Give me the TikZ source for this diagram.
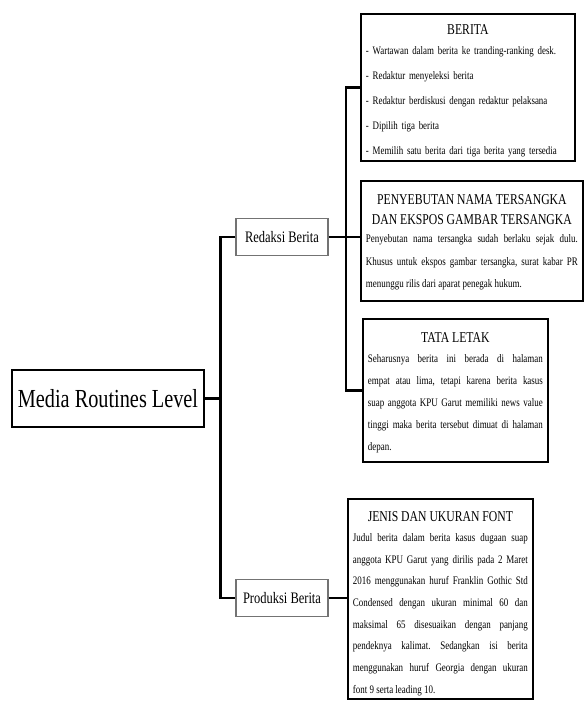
\documentclass[tikz,border=0pt]{standalone}
\usepackage{fontspec}
\setmainfont{Liberation Serif}[FakeStretch=0.78]
\usetikzlibrary{positioning}
\frenchspacing
\tikzset{
  mr/root/.style={draw, line width=1.8pt, minimum width=192pt, minimum height=57pt, inner sep=0pt, font=\fontsize{26}{28}\selectfont},
  mr/stage/.style={draw=black!55, line width=1.4pt, minimum width=92pt, minimum height=37pt, inner sep=0pt, font=\fontsize{16}{18}\selectfont},
  mr/info/.style={draw, line width=1.8pt, anchor=north west, inner xsep=5pt, inner ysep=3pt, align=justify, font=\fontsize{11.5}{22}\selectfont},
  mr/link/.style={line width=2.4pt}
}
% title of a detail box: strut height, text, gap to the body
\newcommand{\boxtitle}[3]{{\centering\fontsize{15}{20}\selectfont\rule{0pt}{#1}#2\par}\vspace{#3}}
\newcommand{\boxend}[1]{\rule[-#1]{0pt}{#1}}

\begin{document}
\begin{tikzpicture}[x=1pt, y=-1pt]
  \useasboundingbox (0,0) rectangle (584,702);
  % level and the two stages
  \node[mr/root] (root) at (108,398.5) {Media Routines Level};
  \node[mr/stage] (redaksi) at (282,237) {Redaksi Berita};
  \node[mr/stage] (produksi) at (282,598) {Produksi Berita};

  % detail boxes
  \node[mr/info, align=left, text width=204pt, font=\fontsize{11.4}{25}\selectfont] (berita) at (360,13) {\boxtitle{18pt}{BERITA}{-5pt}%
    - Wartawan dalam berita ke tranding-ranking desk.\\
    - Redaktur menyeleksi berita\\
    - Redaktur berdiskusi dengan redaktur pelaksana\\
    - Dipilih tiga berita\\
    - Memilih satu berita dari tiga berita yang tersedia\boxend{3pt}};
  \node[mr/info, text width=212pt, font=\fontsize{11.5}{22.5}\selectfont] (penyebutan) at (360,180) {\boxtitle{21pt}{PENYEBUTAN NAMA TERSANGKA\\DAN EKSPOS GAMBAR TERSANGKA}{-4.5pt}%
    Penyebutan nama tersangka sudah berlaku sejak dulu. \linebreak
    Khusus untuk ekspos gambar tersangka, surat kabar PR \linebreak
    menunggu rilis dari aparat penegak hukum.\boxend{10pt}};
  \node[mr/info, text width=175pt] (tata) at (362,318) {\boxtitle{21pt}{TATA LETAK}{-2pt}%
    Seharusnya berita ini berada di halaman \linebreak
    empat atau lima, tetapi karena berita kasus \linebreak
    suap anggota KPU Garut memiliki news value \linebreak
    tinggi maka berita tersebut dimuat di halaman \linebreak
    depan.\boxend{8pt}};
  \node[mr/info, text width=175pt, font=\fontsize{11.5}{21.7}\selectfont] (jenis) at (347,498) {\boxtitle{20pt}{JENIS DAN UKURAN FONT}{-2.2pt}%
    Judul berita dalam berita kasus dugaan suap \linebreak
    anggota KPU Garut yang dirilis pada 2 Maret \linebreak
    2016 menggunakan huruf Franklin Gothic Std \linebreak
    Condensed dengan ukuran minimal 60 dan \linebreak
    maksimal 65 disesuaikan dengan panjang \linebreak
    pendeknya kalimat. Sedangkan isi berita \linebreak
    menggunakan huruf Georgia dengan ukuran \linebreak
    font 9 serta leading 10.\boxend{3pt}};

  % connectors
  \draw[mr/link] (root.east) -- ++(17,0);
  \draw[mr/link] (redaksi.west) -- ++(-15,0) |- (produksi.west);
  \draw[mr/link] (berita.west) -- ++(-14,0) |- (tata.west);
  \draw[mr/link] (redaksi.east) -- (redaksi.east -| penyebutan.west);
  \draw[mr/link] (produksi.east) -- (produksi.east -| jenis.west);
\end{tikzpicture}
\end{document}
